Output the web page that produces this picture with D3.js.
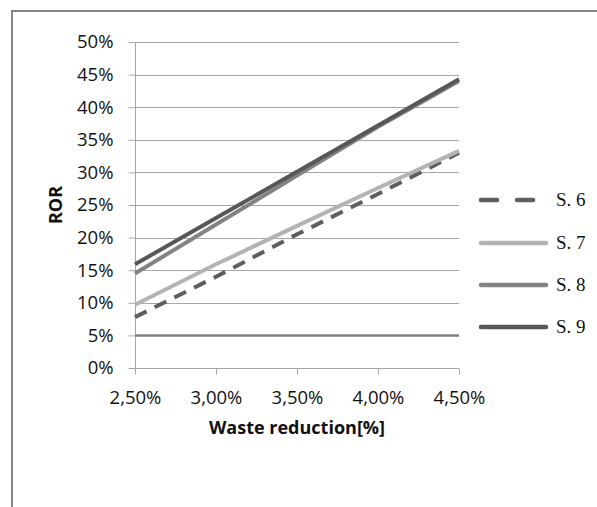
<!DOCTYPE html>
<html>
<head>
<meta charset="utf-8">
<script src="https://cdn.jsdelivr.net/npm/d3@7/dist/d3.min.js"></script>
<style>
  html, body { margin: 0; padding: 0; background: #fff; }
  svg { display: block; }
</style>
</head>
<body>
<script>
// Waste reduction levels (x) and ROR per scenario (y, percent)
const wasteReduction = [2.5, 3.0, 3.5, 4.0, 4.5];
const seriesNames = ["S. 6", "S. 7", "S. 8", "S. 9"];
const rorS6 = [7.8, 14.0, 20.5, 26.7, 33.0];
const rorS7 = [9.7, 15.9, 21.8, 27.6, 33.3];
const rorS8 = [14.5, 22.0, 29.5, 37.0, 44.0];
const rorS9 = [15.9, 23.0, 30.1, 37.2, 44.3];
const baseline = [5, 5, 5, 5, 5];
const yTicks = [0, 5, 10, 15, 20, 25, 30, 35, 40, 45, 50];
const xTicks = [2.5, 3.0, 3.5, 4.0, 4.5];

const W = 597, H = 507;
const svg = d3.select("body").append("svg").attr("width", W).attr("height", H);

// outer chart frame (runs off the right and bottom edges)
svg.append("rect")
  .attr("x", 12).attr("y", 11).attr("width", 620).attr("height", 520)
  .attr("fill", "none").attr("stroke", "#868686").attr("stroke-width", 2);

const x = d3.scaleLinear().domain([2.5, 4.5]).range([135, 459]);
const y = d3.scaleLinear().domain([0, 50]).range([368, 42]);

const tickFont = "'Open Sans', sans-serif";
const textColor = "#111";

// horizontal gridlines
svg.append("g").selectAll("line").data(yTicks.filter(d => d > 0)).join("line")
  .attr("x1", x(2.5)).attr("x2", x(4.5))
  .attr("y1", d => Math.round(y(d)) + 0.5).attr("y2", d => Math.round(y(d)) + 0.5)
  .attr("stroke", "#a6a6a6").attr("stroke-width", 1);

// y axis
const yAxis = svg.append("g").attr("transform", `translate(${x(2.5) + 0.5},0)`)
  .call(d3.axisLeft(y).tickValues(yTicks).tickSize(7).tickPadding(15)
    .tickFormat(d => d + "%"));
yAxis.selectAll("line, path").attr("stroke", "#a6a6a6");
yAxis.select(".domain").attr("d", `M0,${y(50)}V${y(0)}`);
yAxis.selectAll("text").attr("font-family", tickFont).attr("font-size", 18.5)
  .attr("fill", textColor);

// x axis
const xAxis = svg.append("g").attr("transform", `translate(0,${Math.round(y(0)) + 0.5})`)
  .call(d3.axisBottom(x).tickValues(xTicks).tickSize(6).tickPadding(16)
    .tickFormat(d => d3.format(".2f")(d).replace(".", ",") + "%"));
xAxis.selectAll("line, path").attr("stroke", "#a6a6a6");
xAxis.select(".domain").attr("d", `M${x(2.5)},0H${x(4.5)}`);
xAxis.selectAll("text").attr("font-family", tickFont).attr("font-size", 18.5)
  .attr("fill", textColor);

// axis titles
svg.append("text").attr("x", 297).attr("y", 434).attr("text-anchor", "middle")
  .attr("font-family", tickFont).attr("font-weight", "bold").attr("font-size", 18)
  .attr("fill", textColor).text("Waste reduction[%]");
svg.append("text").attr("transform", "translate(62,205) rotate(-90)")
  .attr("text-anchor", "middle")
  .attr("font-family", tickFont).attr("font-weight", "bold").attr("font-size", 18)
  .attr("fill", textColor).text("ROR");

const line = d3.line().x((d, i) => x(wasteReduction[i])).y(d => y(d));

// 5% reference line
svg.append("path").attr("d", line(baseline)).attr("fill", "none")
  .attr("stroke", "#7f7f7f").attr("stroke-width", 2.5);

const series = [
  { name: seriesNames[0], values: rorS6, color: "#5e5e5e", dash: "13,9" },
  { name: seriesNames[1], values: rorS7, color: "#b3b3b3", dash: null },
  { name: seriesNames[2], values: rorS8, color: "#838383", dash: null },
  { name: seriesNames[3], values: rorS9, color: "#575757", dash: null }
];

svg.append("g").selectAll("path").data(series).join("path")
  .attr("d", d => line(d.values)).attr("fill", "none")
  .attr("stroke", d => d.color).attr("stroke-width", 4)
  .attr("stroke-dasharray", d => d.dash);

// legend
const legendY = [200, 243, 285, 327];
const legend = svg.append("g").selectAll("g").data(series).join("g")
  .attr("transform", (d, i) => `translate(0,${legendY[i]})`);
legend.append("line").attr("x1", 481).attr("x2", 546).attr("y1", 0).attr("y2", 0)
  .attr("stroke", d => d.color).attr("stroke-width", 4.5)
  .attr("stroke-linecap", "round")
  .attr("stroke-dasharray", d => d.dash ? "16,20" : null);
legend.append("text").attr("x", 556).attr("y", 6)
  .attr("font-family", "'Liberation Serif', serif").attr("font-size", 19)
  .attr("fill", textColor).text(d => d.name);
</script>
</body>
</html>
